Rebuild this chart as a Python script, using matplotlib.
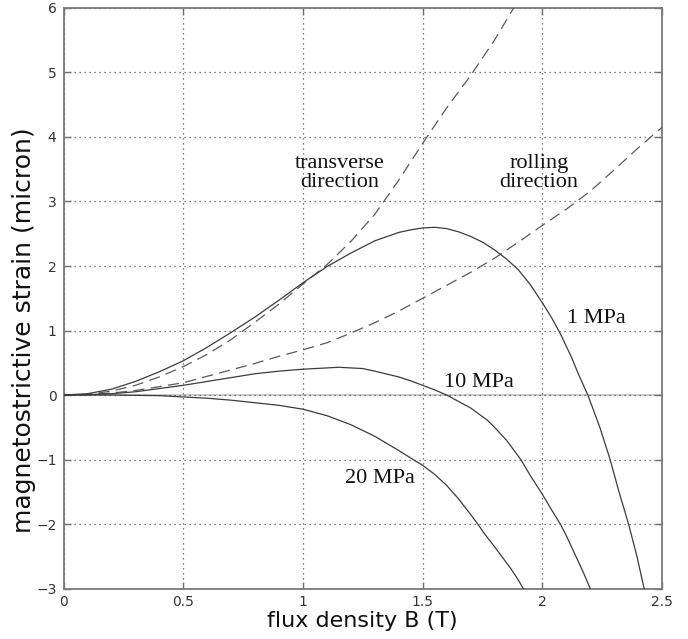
"""
磁歪曲線 (magnetostrictive strain vs flux density) の再現
"""

import matplotlib

matplotlib.use("Agg")
import matplotlib.pyplot as plt

# 圧延方向 / 直交方向 (dashed)
trans_b = [0, 0.1, 0.2, 0.3, 0.4, 0.5, 0.6, 0.7, 0.8, 0.9, 1.0, 1.1, 1.2, 1.3,
           1.4, 1.5, 1.6, 1.7, 1.8, 1.88]
trans_s = [0, 0.01, 0.06, 0.15, 0.28, 0.44, 0.63, 0.86, 1.13, 1.41, 1.72, 2.02,
           2.38, 2.8, 3.33, 3.9, 4.45, 4.95, 5.5, 6.0]

roll_b = [0, 0.1, 0.2, 0.3, 0.4, 0.5, 0.6, 0.7, 0.8, 0.9, 1.0, 1.1, 1.2, 1.3,
          1.4, 1.5, 1.6, 1.7, 1.8, 1.9, 2.0, 2.1, 2.2, 2.3, 2.4, 2.5]
roll_s = [0, 0.005, 0.03, 0.07, 0.13, 0.19, 0.29, 0.39, 0.49, 0.6, 0.7, 0.81,
          0.96, 1.12, 1.3, 1.5, 1.7, 1.9, 2.12, 2.37, 2.63, 2.88, 3.16, 3.49,
          3.83, 4.15]

# 応力ごとの曲線 (solid)
mpa1_b = [0, 0.1, 0.2, 0.3, 0.4, 0.5, 0.6, 0.7, 0.8, 0.9, 1.0, 1.1, 1.2, 1.3,
          1.4, 1.45, 1.5, 1.55, 1.6, 1.65, 1.7, 1.75, 1.8, 1.85, 1.9, 1.95,
          2.0, 2.04, 2.075, 2.12, 2.15, 2.19, 2.24, 2.283, 2.32, 2.36, 2.395,
          2.425]
mpa1_s = [0, 0.02, 0.09, 0.21, 0.36, 0.53, 0.74, 0.97, 1.21, 1.47, 1.74, 1.99,
          2.2, 2.39, 2.52, 2.56, 2.59, 2.6, 2.58, 2.53, 2.46, 2.37, 2.25, 2.11,
          1.94, 1.71, 1.43, 1.19, 0.95, 0.6, 0.33, 0.0, -0.5, -1.0, -1.5, -2.0,
          -2.5, -3.0]

mpa10_b = [0, 0.1, 0.2, 0.3, 0.4, 0.5, 0.6, 0.7, 0.8, 0.9, 1.0, 1.1, 1.15,
           1.2, 1.25, 1.3, 1.4, 1.45, 1.5, 1.55, 1.6, 1.65, 1.7, 1.77, 1.8,
           1.85, 1.91, 1.95, 2.0, 2.04, 2.075, 2.1, 2.14, 2.17, 2.2]
mpa10_s = [0, 0.005, 0.02, 0.05, 0.1, 0.15, 0.21, 0.27, 0.33, 0.37, 0.4, 0.42,
           0.43, 0.42, 0.41, 0.37, 0.28, 0.22, 0.15, 0.08, 0.0, -0.1, -0.2,
           -0.39, -0.5, -0.7, -1.0, -1.25, -1.54, -1.79, -2.0, -2.18, -2.5,
           -2.74, -3.0]

mpa20_b = [0, 0.2, 0.4, 0.5, 0.6, 0.7, 0.8, 0.9, 1.0, 1.1, 1.2, 1.3, 1.35,
           1.4, 1.46, 1.5, 1.55, 1.6, 1.65, 1.7, 1.73, 1.76, 1.8, 1.84, 1.87,
           1.9, 1.92]
mpa20_s = [0, 0.0, -0.01, -0.03, -0.05, -0.08, -0.12, -0.16, -0.22, -0.32,
           -0.46, -0.64, -0.75, -0.86, -1.0, -1.09, -1.23, -1.4, -1.61, -1.85,
           -2.0, -2.16, -2.35, -2.55, -2.7, -2.87, -3.0]

x_ticks = [0, 0.5, 1, 1.5, 2, 2.5]
x_tick_labels = ["0", "0.5", "1", "1.5", "2", "2.5"]
y_ticks = [-3, -2, -1, 0, 1, 2, 3, 4, 5, 6]
y_tick_labels = ["\u22123", "\u22122", "\u22121", "0", "1", "2", "3", "4", "5", "6"]

labels = ["transverse\ndirection", "rolling\ndirection", "1 MPa", "10 MPa", "20 MPa"]
label_pos = [(1.155, 3.44), (1.985, 3.44), (2.226, 1.18), (1.737, 0.19), (1.32, -1.29)]


fig = plt.figure(figsize=(6.88, 6.39), dpi=100)
ax = fig.add_axes([0.0923, 0.079, 0.87, 0.9085])

# y=0 の基準線
ax.axhline(0, color="#c8c8c8", linewidth=1.3, zorder=1)

solid = dict(color="#3c3c3c", linewidth=0.9, zorder=3)
dashed = dict(color="#5a5a5a", linewidth=0.9, linestyle=(0, (9, 5)), zorder=3)

ax.plot(trans_b, trans_s, **dashed)
ax.plot(roll_b, roll_s, **dashed)
ax.plot(mpa1_b, mpa1_s, **solid)
ax.plot(mpa10_b, mpa10_s, **solid)
ax.plot(mpa20_b, mpa20_s, **solid)

for text, (bx, sy) in zip(labels, label_pos):
    ax.text(bx, sy, text, ha="center", va="center", fontsize=16,
            family="Liberation Serif", color="#111111", linespacing=1.05,
            zorder=4)

ax.set_xlim(0, 2.5)
ax.set_ylim(-3, 6)
ax.set_xticks(x_ticks)
ax.set_xticklabels(x_tick_labels)
ax.set_yticks(y_ticks)
ax.set_yticklabels(y_tick_labels)

ax.grid(True, linestyle=(0, (1, 3)), color="#555555", linewidth=0.9)
ax.tick_params(direction="in", length=5, width=1, color="#707070",
               top=True, right=True, labelsize=10, labelcolor="#333333",
               pad=5)
for sp in ax.spines.values():
    sp.set_color("#7a7a7a")
    sp.set_linewidth(1.3)

ax.set_xlabel("flux density B (T)", fontsize=16, color="#111111", va="center")
ax.xaxis.set_label_coords(0.5, -0.056)
ax.set_ylabel("magnetostrictive strain (micron)", fontsize=18,
              color="#111111", va="center")
ax.yaxis.set_label_coords(-0.066, 0.445)

fig.savefig("out.png", dpi=100)
plt.close(fig)
